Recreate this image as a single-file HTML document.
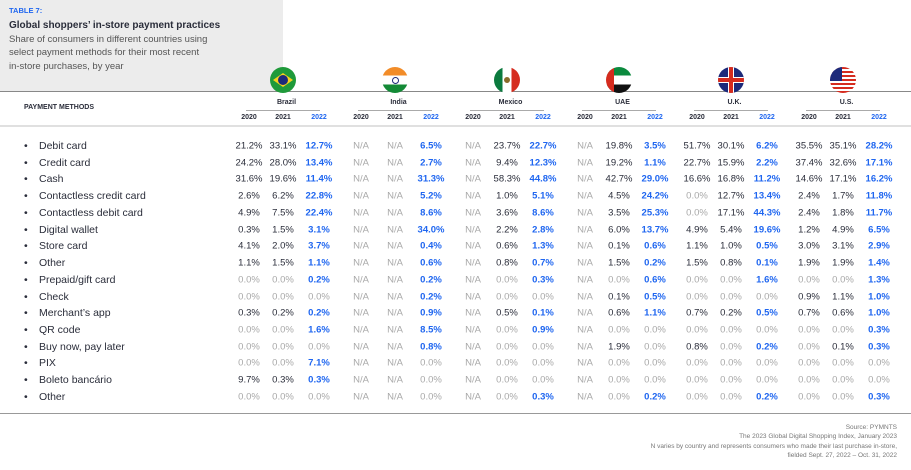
<!DOCTYPE html><html><head><meta charset="utf-8"><style>
body{margin:0;width:911px;height:470px;background:#fff;position:relative;overflow:hidden;font-family:"Liberation Sans",sans-serif;color:#2a2d3a}
.a{position:absolute;white-space:nowrap}
.c{position:absolute;width:40px;text-align:center;font-size:9.5px;transform:translateY(-50%)}
.l{position:absolute;white-space:nowrap;font-size:10.5px;transform:translateY(-50%)}
.g{color:#a8a8a8}.b{color:#1f66f0;font-weight:bold}
.yr{position:absolute;width:40px;text-align:center;font-size:7px;font-weight:bold;top:114px}
.flag{position:absolute;width:26px;height:26px;border-radius:50%;overflow:hidden;top:67px}
</style></head><body>
<div class="a" style="left:0;top:0;width:283px;height:91px;background:#ececec"></div>
<div class="a" style="left:9px;top:6px;font-size:7.5px;font-weight:bold;color:#1f66f0">TABLE 7:</div>
<div class="a" style="left:9px;top:20px;font-size:10px;font-weight:bold">Global shoppers’ in-store payment practices</div>
<div class="a" style="left:9px;top:33px;font-size:9.5px;line-height:13.3px;color:#555">Share of consumers in different countries using<br>select payment methods for their most recent<br>in-store purchases, by year</div>
<div class="a" style="left:0;top:91px;width:911px;height:1px;background:#888"></div>
<div class="a" style="left:0;top:125px;width:911px;height:2px;background:#e0e0e0"></div>
<div class="a" style="left:0;top:413px;width:911px;height:1px;background:#999"></div>
<div class="a" style="left:24px;top:104px;font-size:7px;font-weight:bold">PAYMENT METHODS</div>
<div class="a" style="right:14px;top:423px;font-size:6.5px;line-height:9.3px;color:#777;text-align:right">Source: PYMNTS<br>The 2023 Global Digital Shopping Index, January 2023<br>N varies by country and represents consumers who made their last purchase in-store,<br>fielded Sept. 27, 2022 – Oct. 31, 2022</div>
<div id="t"></div>
<script>
const C=["Brazil","India","Mexico","UAE","U.K.","U.S."];
const flags=[
'<div style="width:100%;height:100%;background:#1f9a3a;position:relative"><div style="position:absolute;left:3px;top:6px;width:20px;height:14px;background:#f6d21d;clip-path:polygon(50% 0,100% 50%,50% 100%,0 50%)"></div><div style="position:absolute;left:8px;top:8px;width:10px;height:10px;border-radius:50%;background:#1d2a7a"></div></div>',
'<div style="width:100%;height:100%;background:linear-gradient(#f28c28 33%,#fff 33% 67%,#138a36 67%);position:relative"><div style="position:absolute;left:10px;top:10px;width:5px;height:5px;border:1px solid #1d2a7a;border-radius:50%"></div></div>',
'<div style="width:100%;height:100%;background:linear-gradient(90deg,#0b7a3e 33%,#fff 33% 67%,#d52b1e 67%);position:relative"><div style="position:absolute;left:10px;top:10px;width:6px;height:6px;background:#8a6a2a;border-radius:50%"></div></div>',
'<div style="width:100%;height:100%;background:linear-gradient(90deg,#d52b1e 30%,transparent 30%),linear-gradient(#0b8a3e 33%,#fff 33% 67%,#111 67%)"></div>',
'<div style="width:100%;height:100%;background:#1d2a7a;position:relative"><div style="position:absolute;left:0;top:10px;width:26px;height:6px;background:#fff"></div><div style="position:absolute;left:10px;top:0;width:6px;height:26px;background:#fff"></div><div style="position:absolute;left:0;top:11px;width:26px;height:4px;background:#d52b1e"></div><div style="position:absolute;left:11px;top:0;width:4px;height:26px;background:#d52b1e"></div></div>',
'<div style="width:100%;height:100%;background:repeating-linear-gradient(#d52b1e 0 2px,#fff 2px 4px);position:relative"><div style="position:absolute;left:0;top:0;width:12px;height:14px;background:#1d2a7a"></div></div>'];
const R=[["Debit card","21.2 33.1 12.7 N N 6.5 N 23.7 22.7 N 19.8 3.5 51.7 30.1 6.2 35.5 35.1 28.2"],
["Credit card","24.2 28.0 13.4 N N 2.7 N 9.4 12.3 N 19.2 1.1 22.7 15.9 2.2 37.4 32.6 17.1"],
["Cash","31.6 19.6 11.4 N N 31.3 N 58.3 44.8 N 42.7 29.0 16.6 16.8 11.2 14.6 17.1 16.2"],
["Contactless credit card","2.6 6.2 22.8 N N 5.2 N 1.0 5.1 N 4.5 24.2 0.0 12.7 13.4 2.4 1.7 11.8"],
["Contactless debit card","4.9 7.5 22.4 N N 8.6 N 3.6 8.6 N 3.5 25.3 0.0 17.1 44.3 2.4 1.8 11.7"],
["Digital wallet","0.3 1.5 3.1 N N 34.0 N 2.2 2.8 N 6.0 13.7 4.9 5.4 19.6 1.2 4.9 6.5"],
["Store card","4.1 2.0 3.7 N N 0.4 N 0.6 1.3 N 0.1 0.6 1.1 1.0 0.5 3.0 3.1 2.9"],
["Other","1.1 1.5 1.1 N N 0.6 N 0.8 0.7 N 1.5 0.2 1.5 0.8 0.1 1.9 1.9 1.4"],
["Prepaid/gift card","0.0 0.0 0.2 N N 0.2 N 0.0 0.3 N 0.0 0.6 0.0 0.0 1.6 0.0 0.0 1.3"],
["Check","0.0 0.0 0.0 N N 0.2 N 0.0 0.0 N 0.1 0.5 0.0 0.0 0.0 0.9 1.1 1.0"],
["Merchant’s app","0.3 0.2 0.2 N N 0.9 N 0.5 0.1 N 0.6 1.1 0.7 0.2 0.5 0.7 0.6 1.0"],
["QR code","0.0 0.0 1.6 N N 8.5 N 0.0 0.9 N 0.0 0.0 0.0 0.0 0.0 0.0 0.0 0.3"],
["Buy now, pay later","0.0 0.0 0.0 N N 0.8 N 0.0 0.0 N 1.9 0.0 0.8 0.0 0.2 0.0 0.1 0.3"],
["PIX","0.0 0.0 7.1 N N 0.0 N 0.0 0.0 N 0.0 0.0 0.0 0.0 0.0 0.0 0.0 0.0"],
["Boleto bancário","9.7 0.3 0.3 N N 0.0 N 0.0 0.0 N 0.0 0.0 0.0 0.0 0.0 0.0 0.0 0.0"],
["Other","0.0 0.0 0.0 N N 0.0 N 0.0 0.3 N 0.0 0.2 0.0 0.0 0.2 0.0 0.0 0.3"]];
let h="";const off=[0,34,70];
C.forEach((c,g)=>{const b=249+112*g;
h+=`<div class="flag" style="left:${b+34-13}px">${flags[g]}</div>`;
h+=`<div class="a" style="left:${b-20}px;width:115px;text-align:center;top:99px;font-size:7px;font-weight:bold">${c}</div>`;
h+=`<div class="a" style="left:${b-3}px;width:74px;top:110px;height:1px;background:#aaa"></div>`;
["2020","2021","2022"].forEach((y,i)=>h+=`<div class="yr" style="left:${b+off[i]-20}px;${i==2?'color:#1f66f0':''}">${y}</div>`);});
R.forEach((r,k)=>{const y=146+k*16.73;
h+=`<div class="l" style="left:24px;top:${y}px">•</div><div class="l" style="left:39px;top:${y}px">${r[0]}</div>`;
r[1].split(" ").forEach((v,j)=>{const g=Math.floor(j/3),i=j%3,x=249+112*g+off[i]-20;
let cls="",t=v+"%";if(v=="N"){cls="g";t="N/A"}else if(v=="0.0")cls="g";else if(i==2)cls="b";
h+=`<div class="c ${cls}" style="left:${x}px;top:${y}px">${t}</div>`;});});
document.getElementById("t").innerHTML=h;
</script></body></html>
